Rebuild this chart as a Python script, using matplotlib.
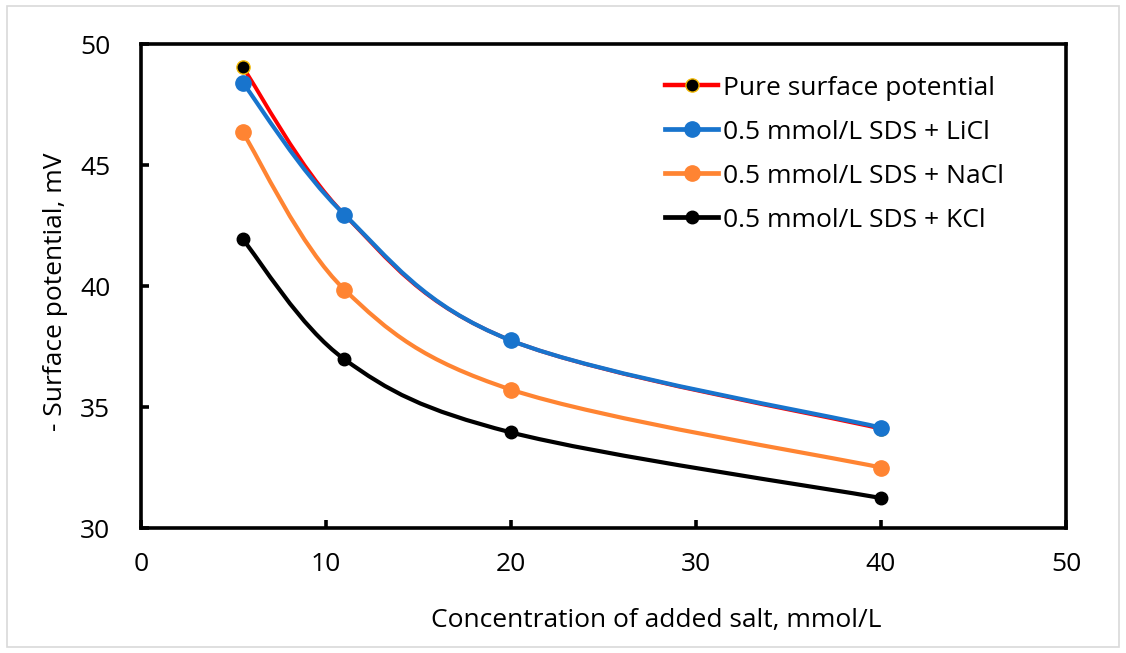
import numpy as np
import matplotlib
matplotlib.use('Agg')
import matplotlib.pyplot as plt
from matplotlib.path import Path
from matplotlib.patches import PathPatch, Rectangle
from matplotlib.lines import Line2D

plt.rcParams['font.family'] = ['Open Sans', 'DejaVu Sans']

# data
conc = [5.5, 11, 20, 40]
pure = [49.05, 42.95, 37.75, 34.1]
licl = [48.4, 42.95, 37.75, 34.15]
nacl = [46.35, 39.85, 35.72, 32.5]
kcl = [41.93, 36.97, 33.95, 31.24]

labels = ['Pure surface potential',
          '0.5 mmol/L SDS + LiCl',
          '0.5 mmol/L SDS + NaCl',
          '0.5 mmol/L SDS + KCl']


def smooth_path(x, y, t=1 / 6):
    # Excel-like smoothed line: cubic Bezier through every point
    pts = np.column_stack([x, y]).astype(float)
    ext = np.vstack([pts[0], pts, pts[-1]])
    verts = [pts[0]]
    codes = [Path.MOVETO]
    for i in range(len(pts) - 1):
        p0, p1, p2, p3 = ext[i], ext[i + 1], ext[i + 2], ext[i + 3]
        verts += [p1 + (p2 - p0) * t, p2 - (p3 - p1) * t, p2]
        codes += [Path.CURVE4] * 3
    return Path(verts, codes)


fig = plt.figure(figsize=(11.26, 6.53), dpi=100)
ax = fig.add_axes([0.1252, 0.1914, 0.8215, 0.7412])

series = [
    (pure, '#FF0000', 'black', '#F2B800', 9.5, 2.8),
    (licl, '#1874CD', '#1874CD', '#1874CD', 11, 3.0),
    (nacl, '#FF8432', '#FF8432', '#FF8432', 11, 3.0),
    (kcl, 'black', 'black', 'black', 9, 3.0),
]

handles = []
for i, (vals, col, mfc, mec, ms, lw) in enumerate(series):
    ax.add_patch(PathPatch(smooth_path(conc, vals), fill=False, edgecolor=col,
                           lw=lw, zorder=2 + i, capstyle='round'))
    ax.plot(conc, vals, ls='none', marker='o', ms=ms, mfc=mfc, mec=mec,
            mew=1.0, zorder=2 + i)
    handles.append(Line2D([], [], color=col, lw=lw + 0.4, marker='o', ms=ms,
                          mfc=mfc, mec=mec, mew=1.0))

ax.set_xlim(0, 50)
ax.set_ylim(30, 50)
ax.set_xticks([0, 10, 20, 30, 40, 50])
ax.set_yticks([30, 35, 40, 45, 50])

for s in ax.spines.values():
    s.set_linewidth(2.6)
    s.set_color('black')
ax.tick_params(direction='in', length=6, width=2.6, labelsize=19, pad=22)
ax.tick_params(axis='x', pad=17)

ax.set_xlabel('Concentration of added salt, mmol/L', fontsize=19)
ax.xaxis.set_label_coords(0.557, -0.165)
fig.text(55 / 1126, 1 - 292 / 653, '- Surface potential, mV', fontsize=19,
         rotation=90, ha='center', va='center')

leg = ax.legend(handles, labels, loc='upper left', bbox_to_anchor=(0.5525, 0.962),
                frameon=False, fontsize=19, handlelength=2.0, handletextpad=0.2,
                labelspacing=0.72, borderpad=0)

fig.patches.append(Rectangle((0.006, 0.009), 0.988, 0.982, transform=fig.transFigure,
                             fill=False, edgecolor='#D9D9D9', lw=1.2))

fig.savefig('out.png', dpi=100)
